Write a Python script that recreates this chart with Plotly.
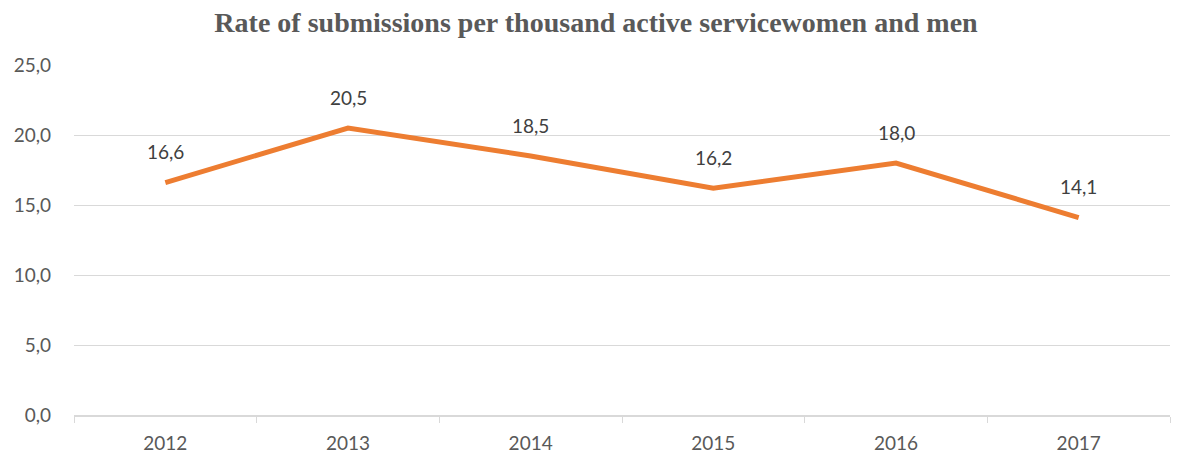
import plotly.graph_objects as go

years = ["2012", "2013", "2014", "2015", "2016", "2017"]
rates = [16.6, 20.5, 18.5, 16.2, 18.0, 14.1]
labels = ["16,6", "20,5", "18,5", "16,2", "18,0", "14,1"]

FONT = "Lato, Open Sans, sans-serif"

fig = go.Figure()
fig.add_trace(go.Scatter(
    x=years, y=rates, mode="lines",
    line=dict(color="#ED7D31", width=5),
    hoverinfo="skip", showlegend=False,
))
for i, (y, t) in enumerate(zip(rates, labels)):
    fig.add_annotation(x=i, y=y, xref="x", yref="y", text=t, showarrow=False,
                       yshift=31, yanchor="middle", xanchor="center",
                       font=dict(family=FONT, size=19, color="#404040"))

# page body has an 8px margin, so the figure is sized/margined to compensate
fig.update_layout(
    width=1176, height=450,
    margin=dict(l=66, r=14, t=57, b=43, autoexpand=False),
    paper_bgcolor="white", plot_bgcolor="white",
    separators=",.",
    title=dict(text="<b>Rate of submissions per thousand active servicewomen and men</b>",
               x=0.5, xanchor="center", y=0.969, yanchor="middle",
               font=dict(family="Liberation Serif, Times New Roman, serif", size=28, color="#595959")),
    xaxis=dict(type="category", tickson="boundaries", ticks="outside", ticklen=6,
               tickcolor="#d9d9d9", showline=True, linecolor="#d9d9d9", linewidth=1.5,
               showgrid=False, automargin=False, ticklabelstandoff=10,
               tickfont=dict(family=FONT, size=19, color="#595959"),
               range=[-0.5, 5.5]),
    yaxis=dict(range=[0, 25], dtick=5, tickformat=".1f", showgrid=True, gridcolor="#d9d9d9",
               gridwidth=1.2, zeroline=False, showline=False, ticks="",
               ticklabelstandoff=22, automargin=False,
               tickfont=dict(family=FONT, size=19, color="#595959")),
)
fig.write_html("out.html")
